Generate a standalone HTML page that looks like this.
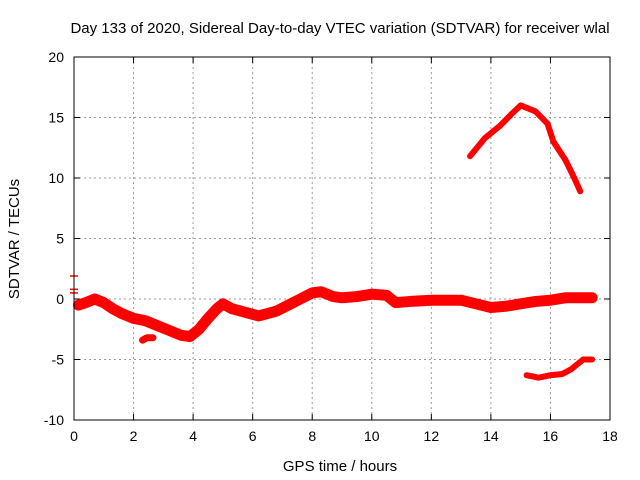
<!DOCTYPE html>
<html><head><meta charset="utf-8"><style>
html,body{margin:0;padding:0;background:#fff}
svg{display:block;font-family:"Liberation Sans",sans-serif}
</style></head><body>
<svg id="chart" width="640" height="480">
<text x="340" y="33" font-size="15" text-anchor="middle">Day 133 of 2020, Sidereal Day-to-day VTEC variation (SDTVAR) for receiver wlal</text>
<text x="340" y="471" font-size="15" text-anchor="middle">GPS time / hours</text>
<text transform="translate(19,239) rotate(-90)" font-size="15" text-anchor="middle">SDTVAR / TECUs</text>
<g id="grid"></g><g id="ticks"></g><g id="series"></g>
<rect x="74" y="57" width="536" height="363" fill="none" stroke="#000" stroke-width="1"/>
</svg>
<script>
const xTicks=[0,2,4,6,8,10,12,14,16,18];
const yTicks=[-10,-5,0,5,10,15,20];
const mainX=[0.15,0.4,0.7,1.0,1.3,1.6,2.0,2.4,2.8,3.2,3.6,3.9,4.2,4.5,4.8,5.0,5.3,5.6,5.9,6.2,6.5,6.8,7.2,7.6,8.0,8.3,8.7,9.0,9.5,10.0,10.5,10.8,11.3,12.0,12.5,13.0,13.5,14.0,14.5,15.0,15.5,16.0,16.5,17.0,17.4];
const mainY=[-0.5,-0.3,0.0,-0.3,-0.8,-1.2,-1.6,-1.8,-2.2,-2.6,-3.0,-3.1,-2.5,-1.6,-0.8,-0.4,-0.8,-1.0,-1.2,-1.4,-1.2,-1.0,-0.5,0.0,0.5,0.6,0.2,0.1,0.2,0.4,0.3,-0.3,-0.2,-0.1,-0.1,-0.1,-0.4,-0.7,-0.6,-0.4,-0.2,-0.1,0.1,0.1,0.1];
const blobX=[2.3,2.45,2.65];
const blobY=[-3.4,-3.2,-3.2];
const upperX=[13.3,13.8,14.3,14.7,15.0,15.5,15.9,16.1,16.5,16.8,17.0];
const upperY=[11.8,13.3,14.3,15.3,16.0,15.5,14.5,13.0,11.5,10.0,8.9];
const lowerX=[15.2,15.6,16.0,16.4,16.7,16.9,17.1,17.4];
const lowerY=[-6.3,-6.5,-6.3,-6.2,-5.8,-5.4,-5.0,-5.0];
const X0=74,X1=610,Y0=420,Y1=57;
const sx=v=>X0+(v-0)/(18-0)*(X1-X0);
const sy=v=>Y0-(v+10)/(30)*(Y0-Y1);
const NS="http://www.w3.org/2000/svg";
const grid=document.getElementById('grid'),ticks=document.getElementById('ticks'),ser=document.getElementById('series');
function mk(t,a,p){const e=document.createElementNS(NS,t);for(const k in a)e.setAttribute(k,a[k]);p.appendChild(e);return e;}
xTicks.forEach(v=>{const x=sx(v);
 if(v>0&&v<18){const g=mk('line',{x1:x,x2:x,y1:Y1,y2:Y0,stroke:'#999','stroke-dasharray':'2,3'},grid);
 
 }
 mk('line',{x1:x,x2:x,y1:Y0,y2:Y0-6,stroke:'#000'},ticks);mk('line',{x1:x,x2:x,y1:Y1,y2:Y1+6,stroke:'#000'},ticks);
 const t=mk('text',{x:x,y:Y0+21,'font-size':14,'text-anchor':'middle'},ticks);t.textContent=v;
 
 });
yTicks.forEach(v=>{const y=sy(v);
 if(v>-10&&v<20){const g=mk('line',{x1:X0,x2:X1,y1:y,y2:y,stroke:'#999','stroke-dasharray':'2,3'},grid);
 
 }
 mk('line',{x1:X0,x2:X0+6,y1:y,y2:y,stroke:'#000'},ticks);mk('line',{x1:X1,x2:X1-6,y1:y,y2:y,stroke:'#000'},ticks);
 const t=mk('text',{x:X0-10,y:y+5,'font-size':14,'text-anchor':'end'},ticks);t.textContent=v;
 
 });
function line(xs,ys,w,name){const p=mk('polyline',{points:xs.map((x,i)=>sx(x)+','+sy(ys[i])).join(' '),fill:'none',stroke:'#f00','stroke-width':w,'stroke-linejoin':'round','stroke-linecap':'round'},ser);
 
 }
line(mainX,mainY,11,'sdtvar-main-series');
line(blobX,blobY,7,'sdtvar-fragment');
line(upperX,upperY,6,'sdtvar-upper-series');
line(lowerX,lowerY,6,'sdtvar-lower-series');
[[1.9],[0.8],[0.5]].forEach(v=>{const y=sy(v[0]);const m=mk('line',{x1:70,x2:78,y1:y,y2:y,stroke:'#f00','stroke-width':1.5},ser);
 
 });
</script>
</body></html>
